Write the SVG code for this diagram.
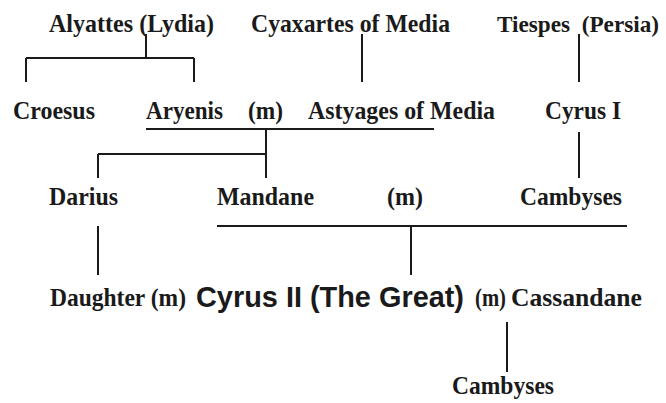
<svg xmlns="http://www.w3.org/2000/svg" width="666" height="403" viewBox="0 0 666 403">
<style>
.t{font-family:"Liberation Serif","Times New Roman",serif;font-weight:bold;font-size:26px;fill:#1a1a1a}
.s{font-family:"Liberation Sans",Arial,sans-serif;font-weight:bold;font-size:30px;fill:#1a1a1a}
.c{stroke:#1a1a1a;stroke-width:2;fill:none}
</style>
<rect width="666" height="403" fill="#fff"/>
<g id="connectors" class="c">
<path d="M146 34V58M26 58H194M26 58V82M194 58V82"/>
<path d="M362 34V82"/>
<path d="M579 34V82"/>
<path d="M146 129H434"/>
<path d="M266 129V178M98 154H266M98 154V178"/>
<path d="M579 132V178"/>
<path d="M217 226H627M411 226V275"/>
<path d="M98 226V275"/>
<path d="M507 322V372"/>
</g>
<g id="alyattes"><text class="t" x="49" y="32" textLength="165" lengthAdjust="spacingAndGlyphs">Alyattes (Lydia)</text></g>
<g id="cyaxartes"><text class="t" x="251" y="32" textLength="199" lengthAdjust="spacingAndGlyphs">Cyaxartes of Media</text></g>
<g id="tiespes"><text class="t" x="497" y="32" style="font-size:23.5px" textLength="162" lengthAdjust="spacingAndGlyphs" xml:space="preserve">Tiespes  (Persia)</text></g>
<g id="croesus"><text class="t" x="13" y="119" textLength="82" lengthAdjust="spacingAndGlyphs">Croesus</text></g>
<g id="aryenis"><text class="t" x="146" y="119" textLength="77" lengthAdjust="spacingAndGlyphs">Aryenis</text></g>
<g id="m1"><text class="t" x="248" y="119" textLength="35" lengthAdjust="spacingAndGlyphs">(m)</text></g>
<g id="astyages"><text class="t" x="308" y="119" textLength="187" lengthAdjust="spacingAndGlyphs">Astyages of Media</text></g>
<g id="cyrus1"><text class="t" x="545" y="119" textLength="76" lengthAdjust="spacingAndGlyphs">Cyrus I</text></g>
<g id="darius"><text class="t" x="49" y="205" textLength="69" lengthAdjust="spacingAndGlyphs">Darius</text></g>
<g id="mandane"><text class="t" x="217" y="205" textLength="97" lengthAdjust="spacingAndGlyphs">Mandane</text></g>
<g id="m2"><text class="t" x="387" y="205" textLength="36" lengthAdjust="spacingAndGlyphs">(m)</text></g>
<g id="cambyses1"><text class="t" x="520" y="205" textLength="102" lengthAdjust="spacingAndGlyphs">Cambyses</text></g>
<g id="daughter"><text class="t" x="50" y="306" textLength="136" lengthAdjust="spacingAndGlyphs">Daughter (m)</text></g>
<g id="cyrus2"><text class="s" x="196" y="307" textLength="268" lengthAdjust="spacingAndGlyphs">Cyrus II (The Great)</text></g>
<g id="m3"><text class="t" x="475" y="306" textLength="31" lengthAdjust="spacingAndGlyphs">(m)</text></g>
<g id="cassandane"><text class="t" x="511" y="306" textLength="131" lengthAdjust="spacingAndGlyphs">Cassandane</text></g>
<g id="cambyses2"><text class="t" x="452" y="394" textLength="102" lengthAdjust="spacingAndGlyphs">Cambyses</text></g>
</svg>
